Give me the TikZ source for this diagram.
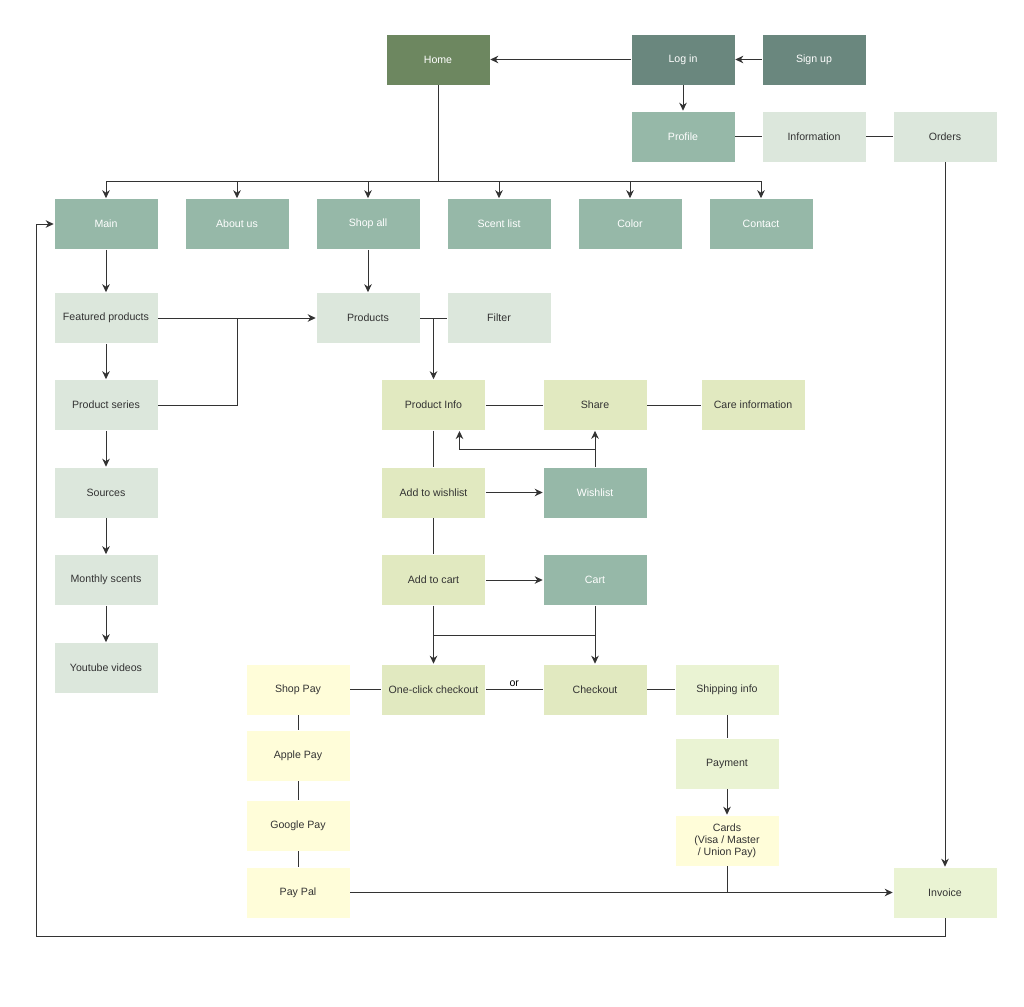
\documentclass[tikz,border=0pt]{standalone}
\usepackage{fontspec}
\setmainfont{Liberation Sans}
\usetikzlibrary{arrows.meta}
\definecolor{chome}{HTML}{6D8760}
\definecolor{clog}{HTML}{6A877E}
\definecolor{cteal}{HTML}{96B8A8}
\definecolor{clight}{HTML}{DCE7DC}
\definecolor{cyg}{HTML}{E1E9C0}
\definecolor{cpg}{HTML}{EAF3D3}
\definecolor{cpy}{HTML}{FFFDD9}
\definecolor{cline}{HTML}{333333}
\definecolor{ctext}{HTML}{333333}
\tikzset{
  box/.style={rectangle, fill=#1, draw=white, line width=0.6pt, minimum width=104pt, minimum height=51pt,
    inner sep=1pt, align=center, font=\fontsize{10.6}{12.2}\selectfont, text=ctext},
  dbox/.style={box=#1, text=white},
  conn/.style={draw=cline, line width=1pt},
  arr/.style={conn, -{Stealth[length=8pt,width=7.5pt,inset=2.5pt]}},
}
\begin{document}
\begin{tikzpicture}[x=1pt,y=-1pt]
\useasboundingbox (0,0) rectangle (1024,1006);
% top row
\node[dbox=chome] (home) at (438,59.5) {Home};
\node[dbox=clog] (login) at (683,59.5) {Log in};
\node[dbox=clog] (signup) at (814,59.5) {Sign up};
\node[dbox=cteal] (profile) at (683,136.5) {Profile};
\node[box=clight] (info) at (814,136.5) {Information};
\node[box=clight] (orders) at (945,136.5) {Orders};
% menu row
\node[dbox=cteal] (main) at (106,224) {Main};
\node[dbox=cteal] (about) at (237,224) {About us};
\node[dbox=cteal] (shopall) at (368,224) {Shop all};
\node[dbox=cteal] (scent) at (499,224) {Scent list};
\node[dbox=cteal] (color) at (630,224) {Color};
\node[dbox=cteal] (contact) at (761,224) {Contact};
% left column
\node[box=clight] (featured) at (106,318) {Featured products};
\node[box=clight] (series) at (106,405) {Product series};
\node[box=clight] (sources) at (106,492.5) {Sources};
\node[box=clight] (monthly) at (106,580) {Monthly scents};
\node[box=clight] (youtube) at (106,668) {Youtube videos};
% products
\node[box=clight] (products) at (368,318) {Products};
\node[box=clight] (filter) at (499,318) {Filter};
\node[box=cyg] (pinfo) at (433.5,405) {Product Info};
\node[box=cyg] (share) at (595,405) {Share};
\node[box=cyg] (care) at (753,405) {Care information};
\node[box=cyg] (addwish) at (433.5,492.5) {Add to wishlist};
\node[dbox=cteal] (wishlist) at (595,492.5) {Wishlist};
\node[box=cyg] (addcart) at (433.5,580) {Add to cart};
\node[dbox=cteal] (cart) at (595,580) {Cart};
% checkout
\node[box=cpy] (shoppay) at (298,689.5) {Shop Pay};
\node[box=cyg] (oneclick) at (433.5,689.5) {One-click checkout};
\node[box=cyg] (checkout) at (595,689.5) {Checkout};
\node[box=cpg] (shipping) at (727,689.5) {Shipping info};
\node[box=cpy] (apple) at (298,755.5) {Apple Pay};
\node[box=cpg] (payment) at (727,763.5) {Payment};
\node[box=cpy] (google) at (298,825.5) {Google Pay};
\node[box=cpy, font=\fontsize{10.6}{11.8}\selectfont] (cards) at (727,840.5) {Cards\\(Visa / Master\\ / Union Pay)};
\node[box=cpy] (paypal) at (298,892.5) {Pay Pal};
\node[box=cpg] (invoice) at (945,892.5) {Invoice};
% coordinates
\coordinate (hb) at (438,181);
\coordinate (lb) at (36,936);
\coordinate (j1) at (237,318);
\coordinate (j2) at (433.5,318);
\coordinate (wj) at (595,449);
\coordinate (pj) at (459.5,431);
\coordinate (cl) at (433.5,635);
\coordinate (cr) at (595,635);
\coordinate (cj) at (727,892.5);
% connectors top
\draw[arr] (login) -- (home);
\draw[arr] (signup) -- (login);
\draw[arr] (login) -- (profile);
\draw[conn] (profile) -- (info);
\draw[conn] (info) -- (orders);
\draw[conn] (home.south) -- (hb);
\foreach \t in {main,about,shopall,scent,color,contact}
  \draw[arr] (hb) -| (\t.north);
\draw[arr] (orders) -- (invoice);
\draw[arr] (invoice.south) |- (lb) |- (main.west);
% left
\draw[arr] (main) -- (featured);
\draw[arr] (featured) -- (series);
\draw[arr] (series) -- (sources);
\draw[arr] (sources) -- (monthly);
\draw[arr] (monthly) -- (youtube);
\draw[arr] (featured) -- (products);
\draw[conn] (series.east) -| (j1);
\draw[arr] (shopall) -- (products);
\draw[conn] (products) -- (filter);
\draw[arr] (j2) -- (pinfo.north);
% product info
\draw[conn] (pinfo) -- (share);
\draw[conn] (share) -- (care);
\draw[conn] (pinfo) -- (addwish);
\draw[conn] (addwish) -- (addcart);
\draw[arr] (addwish) -- (wishlist);
\draw[arr] (wishlist) -- (share);
\draw[arr] (wj) -| (pj);
\draw[arr] (addcart) -- (cart);
\draw[arr] (addcart) -- (oneclick);
\draw[arr] (cart) -- (checkout);
\draw[conn] (cl) -- (cr);
% checkout
\draw[conn] (shoppay) -- (oneclick);
\draw[conn] (oneclick) -- node[above, font=\fontsize{10.6}{12}\selectfont, text=black, yshift=-0.5pt] (or) {or} (checkout);
\draw[conn] (checkout) -- (shipping);
\draw[conn] (shipping) -- (payment);
\draw[arr] (payment) -- (cards);
\draw[conn] (shoppay) -- (apple);
\draw[conn] (apple) -- (google);
\draw[conn] (google) -- (paypal);
\draw[arr] (paypal) -- (invoice);
\draw[conn] (cards) -- (cj);
\end{tikzpicture}
\end{document}
